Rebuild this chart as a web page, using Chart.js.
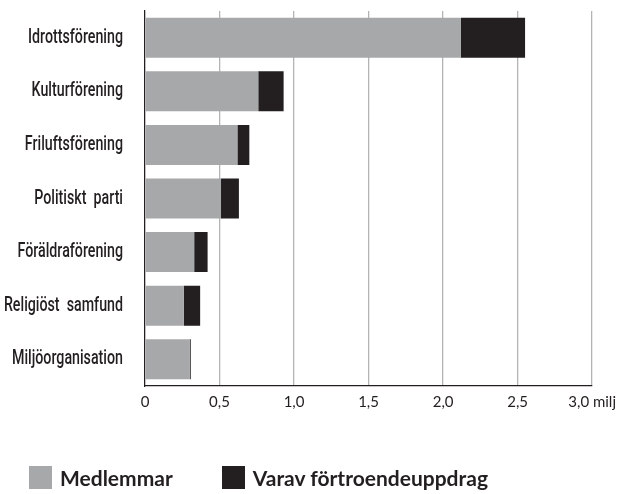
<!DOCTYPE html>
<html>
<head>
<meta charset="utf-8">
<script src="https://cdn.jsdelivr.net/npm/chart.js@4"></script>
<style>
  html, body { margin: 0; padding: 0; background: #fff; }
  #wrap { position: relative; width: 623px; height: 494px; }
  #legend { position: absolute; left: 29px; top: 465px; display: flex; align-items: center;
    font: bold 21px Lato, "Open Sans", sans-serif; color: #231f20; }
  .item { display: flex; align-items: center; }
  .box { width: 23px; height: 23px; margin-right: 8px; }
</style>
</head>
<body>
<div id="wrap">
  <canvas id="c" width="623" height="494"></canvas>
  <div id="legend"></div>
</div>
<script>
  const categories = ["Idrottsförening", "Kulturförening", "Friluftsförening", "Politiskt  parti",
    "Föräldraförening", "Religiöst  samfund", "Miljöorganisation"];
  const medlemmar = [2.12, 0.76, 0.62, 0.51, 0.33, 0.26, 0.30];
  const fortroende = [0.43, 0.17, 0.08, 0.12, 0.09, 0.11, 0.007];
  const seriesNames = ["Medlemmar", "Varav förtroendeuppdrag"];
  const seriesColors = ["#a7a8aa", "#231f20"];
  const xTicks = [0, 0.5, 1, 1.5, 2, 2.5, 3];

  const fmt = (v) => (v === 0 ? "0" : v.toFixed(1).replace(".", ","));

  // category labels in the original are a tall condensed face; squeeze them horizontally
  const LABEL_FONT = "500 20px Roboto, sans-serif";
  const condensedLabels = {
    id: "condensedLabels",
    afterDraw(chart) {
      const s = chart.scales.y;
      const ctx = chart.ctx;
      ctx.save();
      ctx.font = LABEL_FONT;
      const sx = 95 / ctx.measureText(categories[0]).width;
      ctx.fillStyle = "#231f20";
      ctx.textAlign = "right";
      ctx.textBaseline = "middle";
      s.ticks.forEach((t, i) => {
        const y = s.getPixelForTick(i);
        ctx.save();
        ctx.translate(123, y);
        ctx.scale(sx, 1);
        ctx.fillText(chart.data.labels[i], 0, 0);
        ctx.restore();
      });
      ctx.restore();
    },
  };

  const chart = new Chart(document.getElementById("c"), {
    type: "bar",
    data: {
      labels: categories,
      datasets: [
        { label: seriesNames[0], data: medlemmar, backgroundColor: seriesColors[0] },
        { label: seriesNames[1], data: fortroende, backgroundColor: seriesColors[1] },
      ],
    },
    options: {
      indexAxis: "y",
      responsive: false,
      animation: false,
      layout: { padding: { top: 11, right: 27, bottom: 78, left: 0 } },
      datasets: { bar: { categoryPercentage: 1, barPercentage: 0.747 } },
      plugins: { legend: { display: false }, tooltip: { enabled: false } },
      scales: {
        x: {
          stacked: true,
          min: 0,
          max: 3,
          afterBuildTicks: (s) => { s.ticks = xTicks.map((v) => ({ value: v })); },
          afterFit: (s) => { s.height = 30; },
          grid: { color: "#b4b4b4", lineWidth: 1.3, drawTicks: false },
          border: { color: "#231f20", width: 1.2 },
          ticks: {
            padding: 7,
            color: "#231f20",
            font: { family: "Lato, 'Open Sans', sans-serif", size: 15 },
            callback: (v) => (v === 3 ? "3,0 milj" : fmt(v)),
          },
        },
        y: {
          stacked: true,
          afterFit: (s) => { s.width = 145; s.paddingTop = 0; s.paddingBottom = 0; },
          grid: { display: false, drawTicks: false },
          border: { color: "#231f20", width: 1.2 },
          ticks: { padding: 21, color: "rgba(0,0,0,0)", font: { size: 16 } },
        },
      },
    },
    plugins: [condensedLabels],
  });

  const leg = document.getElementById("legend");
  leg.innerHTML = chart.data.datasets.map((d, i) =>
    `<div class="item" style="margin-right:${i === 0 ? 49 : 0}px"><span class="box" style="background:${d.backgroundColor}"></span>${d.label}</div>`
  ).join("");
</script>
</body>
</html>
